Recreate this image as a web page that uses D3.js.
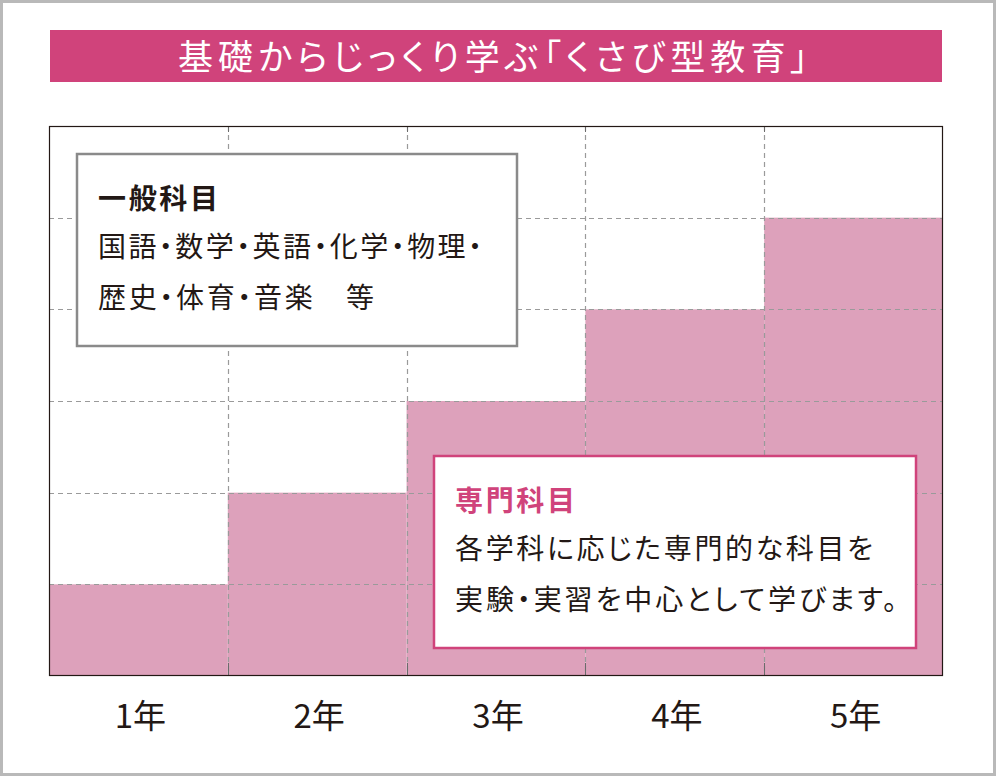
<!DOCTYPE html>
<html>
<head>
    <meta charset="utf-8">
    <script src="https://d3js.org/d3.v7.min.js"></script>
    <style type="text/css">
        body { margin: 0; background: #fff; }
        svg { display: block; font-family: "Noto Sans CJK JP", "Noto Sans", sans-serif; }
        svg text { font-feature-settings: "palt"; }
    </style>
</head>
<body>
    <script type="text/javascript">

        // chart data
        var years = ["1年", "2年", "3年", "4年", "5年"];
        var senmon = [1, 2, 3, 4, 5];       // 専門科目の割合 (6段階)
        var yTicks = [1, 2, 3, 4, 5];
        var yMax = 6;

        var titleText = "基礎からじっくり学ぶ「くさび型教育」";
        var ippanTitle = "一般科目";
        var ippanLines = ["国語・数学・英語・化学・物理・", "歴史・体育・音楽　等"];
        var senmonTitle = "専門科目";
        var senmonLines = ["各学科に応じた専門的な科目を", "実験・実習を中心として学びます。"];

        var w = 996, h = 776;
        var pink = "#d0437b";
        var barColor = "#dda1bb";
        var ink = "#231815";

        var svg = d3.select("body").append("svg")
            .attr("width", w)
            .attr("height", h);

        // outer frame
        svg.append("rect")
            .attr("x", 1.5).attr("y", 1.5)
            .attr("width", w - 3).attr("height", h - 3)
            .attr("fill", "#fff")
            .attr("stroke", "#b9b9b9")
            .attr("stroke-width", 3);

        // title bar
        svg.append("rect")
            .attr("x", 50).attr("y", 30)
            .attr("width", 892).attr("height", 52)
            .attr("fill", pink);
        svg.append("text")
            .attr("x", 493).attr("y", 70)
            .attr("text-anchor", "middle")
            .attr("fill", "#fff")
            .attr("font-size", 35)
            .attr("textLength", 630)
            .attr("lengthAdjust", "spacing")
            .text(titleText);

        // plot area
        var pLeft = 49, pRight = 943, pTop = 126, pBottom = 676;

        var xScale = d3.scaleBand()
            .domain(years)
            .range([pLeft, pRight])
            .padding(0);

        var yScale = d3.scaleLinear()
            .domain([0, yMax])
            .range([pBottom, pTop]);

        // bars
        svg.selectAll("rect.bar")
            .data(senmon)
            .enter()
            .append("rect")
            .attr("class", "bar")
            .attr("x", function(d, i) { return xScale(years[i]); })
            .attr("y", function(d) { return yScale(d); })
            .attr("width", xScale.bandwidth())
            .attr("height", function(d) { return pBottom - yScale(d); })
            .attr("fill", barColor);

        // dashed grid
        var grid = svg.append("g")
            .attr("stroke", "#9a9a9a")
            .attr("stroke-width", 1.2)
            .attr("stroke-dasharray", "5,4");

        grid.selectAll("line.h")
            .data(yTicks)
            .enter()
            .append("line")
            .attr("x1", pLeft).attr("x2", pRight)
            .attr("y1", function(d) { return Math.round(yScale(d)) + 0.5; })
            .attr("y2", function(d) { return Math.round(yScale(d)) + 0.5; });

        grid.selectAll("line.v")
            .data(years.slice(1))
            .enter()
            .append("line")
            .attr("x1", function(d) { return Math.round(xScale(d)) + 0.5; })
            .attr("x2", function(d) { return Math.round(xScale(d)) + 0.5; })
            .attr("y1", pTop).attr("y2", pBottom);

        // small solid ticks at the frame edges
        var ticks = svg.append("g").attr("stroke", "#6b6b6b").attr("stroke-width", 1);
        years.slice(1).forEach(function(d) {
            var x = Math.round(xScale(d)) + 0.5;
            ticks.append("line").attr("x1", x).attr("x2", x).attr("y1", pTop).attr("y2", pTop + 6);
            ticks.append("line").attr("x1", x).attr("x2", x).attr("y1", pBottom - 13).attr("y2", pBottom);
        });

        // plot frame
        svg.append("rect")
            .attr("x", pLeft + 0.5).attr("y", pTop + 0.5)
            .attr("width", pRight - pLeft - 1).attr("height", pBottom - pTop - 1)
            .attr("fill", "none")
            .attr("stroke", ink)
            .attr("stroke-width", 1.2);

        // x labels
        svg.selectAll("text.xl")
            .data(years)
            .enter()
            .append("text")
            .attr("class", "xl")
            .attr("x", function(d) { return xScale(d) + xScale.bandwidth() / 2 + 2; })
            .attr("y", 728)
            .attr("text-anchor", "middle")
            .attr("fill", ink)
            .attr("font-size", 33)
            .text(function(d) { return d; });

        // label boxes
        function labelBox(x, y, bw, bh, stroke, head, headColor, lines, widths) {
            svg.append("rect")
                .attr("x", x).attr("y", y)
                .attr("width", bw).attr("height", bh)
                .attr("fill", "#fff")
                .attr("stroke", stroke)
                .attr("stroke-width", 2.5);
            svg.append("text")
                .attr("x", x + 21).attr("y", y + 55)
                .attr("fill", headColor)
                .attr("font-size", 28)
                .attr("font-weight", "bold")
                .attr("textLength", 120)
                .attr("lengthAdjust", "spacing")
                .text(head);
            lines.forEach(function(t, i) {
                svg.append("text")
                    .attr("x", x + 21).attr("y", y + 103 + i * 51)
                    .attr("fill", ink)
                    .attr("font-size", 28)
                    .attr("textLength", widths[i])
                    .attr("lengthAdjust", "spacing")
                    .text(t);
            });
        }

        labelBox(77, 154, 440, 192, "#8a8a8a", ippanTitle, ink, ippanLines, [384, 276]);
        labelBox(434, 456, 482, 192, pink, senmonTitle, pink, senmonLines, [418, 442]);

    </script>
</body>
</html>
